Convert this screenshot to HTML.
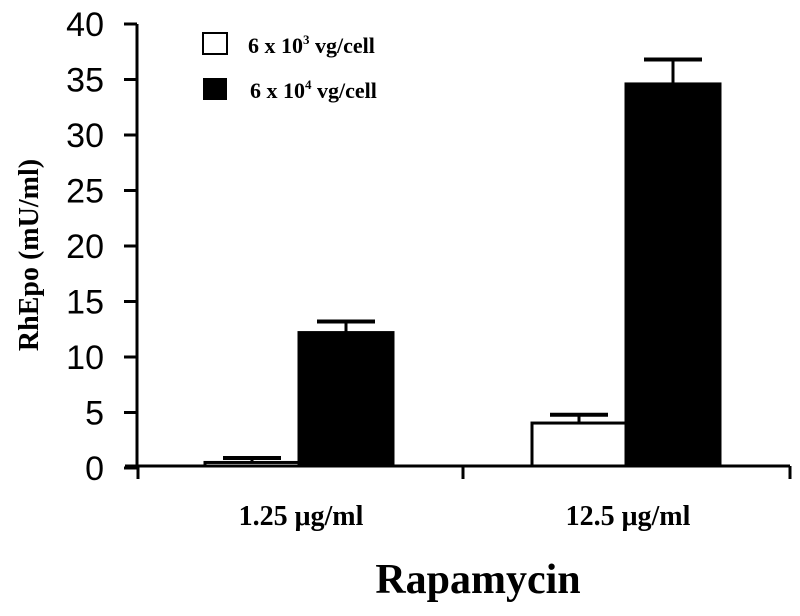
<!DOCTYPE html>
<html><head><meta charset="utf-8"><style>
body{margin:0;background:#fff;}
svg{display:block;}
.tk{font-family:"Liberation Sans",sans-serif;font-size:34px;}
.sr{font-family:"Liberation Serif",serif;font-weight:bold;}
</style></head><body>
<svg id="c" width="800" height="616"></svg>
<script>
const categories=["1.25 μg/ml","12.5 μg/ml"];
const lowDose=[0.5,4.05];
const lowErr=[0.4,0.75];
const highDose=[12.2,34.6];
const highErr=[1.0,2.2];
const yTicks=[0,5,10,15,20,25,30,35,40];
const NS="http://www.w3.org/2000/svg";
const svg=document.getElementById('c');
function y(v){return 468-v*11.1;}
const groupStart=[205,532];
const barW=94;
function mk(t,a,txt){const e=document.createElementNS(NS,t);for(const k in a)e.setAttribute(k,a[k]);if(txt!==undefined)e.textContent=txt;svg.appendChild(e);return e;}
let e=mk('line',{x1:137,y1:y(40),x2:137,y2:468,stroke:'#000','stroke-width':3});


e=mk('line',{x1:125,y1:466,x2:790,y2:466,stroke:'#000','stroke-width':3});


[138,463,790].forEach(x=>{const t=mk('line',{x1:x,y1:466,x2:x,y2:479,stroke:'#000','stroke-width':3});

});
yTicks.forEach(v=>{const t=mk('line',{x1:124,y1:y(v),x2:137,y2:y(v),stroke:'#000','stroke-width':3});


const l=mk('text',{x:104,y:y(v)+12,'text-anchor':'end',class:'tk'},String(v));

});
function bar(x,v,err,fill,name){
 const r=mk('rect',{x:x,y:y(v),width:barW,height:466-y(v),fill:fill,stroke:'#000','stroke-width':3});
 
 
 const cx=x+barW/2;
 const l=mk('line',{x1:cx,y1:y(v),x2:cx,y2:y(v+err),stroke:'#000','stroke-width':3});
 
 
 const c=mk('line',{x1:cx-29,y1:y(v+err),x2:cx+29,y2:y(v+err),stroke:'#000','stroke-width':4});
 
 
}
categories.forEach((cat,i)=>{
 bar(groupStart[i],lowDose[i],lowErr[i],'#fff','bar-low-dose');
 bar(groupStart[i]+barW,highDose[i],highErr[i],'#000','bar-high-dose');
 const t=mk('text',{x:groupStart[i]+barW+2,y:525,'text-anchor':'middle',class:'sr','font-size':'28'},cat);
 
 
});
</script>
<svg style="position:absolute;left:0;top:0" width="800" height="616">
<text class="sr" font-size="28" text-anchor="middle" transform="translate(38,255) rotate(-90)">RhEpo (mU/ml)</text>
<text class="sr" font-size="42" x="478" y="593" text-anchor="middle">Rapamycin</text>
<rect x="203" y="33" width="24" height="21" fill="#fff" stroke="#000" stroke-width="2"/>
<text class="sr" font-size="22" x="248" y="53">6 x 10<tspan font-size="13" dy="-9">3</tspan><tspan dy="9"> vg/cell</tspan></text>
<rect x="203" y="78" width="24" height="22" fill="#000"/>
<text class="sr" font-size="22" x="250" y="98">6 x 10<tspan font-size="13" dy="-9">4</tspan><tspan dy="9"> vg/cell</tspan></text>
</svg>
</body></html>
